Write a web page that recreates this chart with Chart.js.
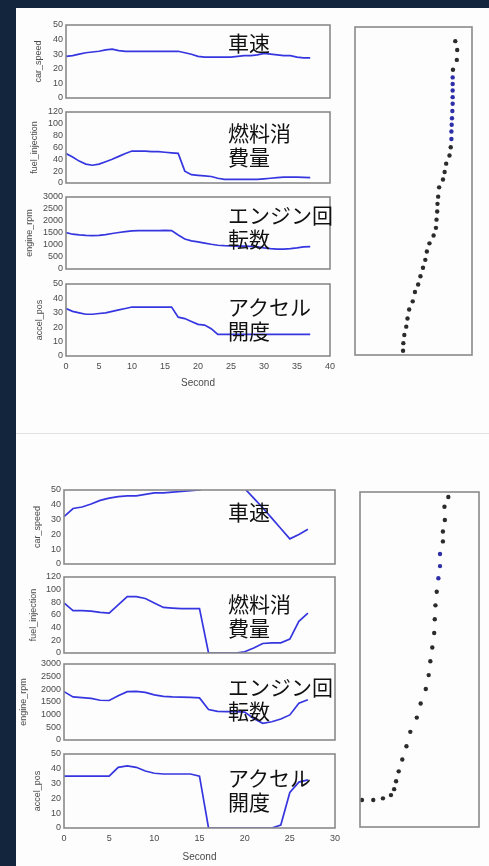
<!DOCTYPE html>
<html>
<head>
<meta charset="utf-8">
<script src="https://cdn.jsdelivr.net/npm/chart.js@4.4.1/dist/chart.umd.min.js"></script>
<style>
  html, body { margin: 0; padding: 0; }
  body {
    width: 489px; height: 866px; position: relative; overflow: hidden;
    background: #13243d; font-family: "DejaVu Sans", sans-serif;
  }
  #sheet { position: absolute; left: 16px; top: 8px; right: 0; bottom: 0; background: #fdfdfd; }
  #divider { position: absolute; left: 16px; right: 0; top: 433px; height: 1px; background: #e3e3e3; }
  .box { position: absolute; }
  .note {
    position: absolute; font-family: "Noto Sans CJK JP", sans-serif;
    font-size: 21px; line-height: 24px; color: #111; white-space: pre;
  }
</style>
</head>
<body>
<div id="sheet"></div>
<div id="divider"></div>
<script>
// ---- Run 1: 0-37 s ----
const secondsA = [0,1,2,3,4,5,6,7,8,9,10,11,12,13,14,15,16,17,18,19,20,21,22,23,24,25,26,27,28,29,30,31,32,33,34,35,36,37];
const carSpeedA = [28.5,29,30,31,31.5,32,33,33.5,32.5,32,32,32,32,32,32,32,32,32,31,30,28.5,28,28,28,28,28,28.5,29,29,29.5,30.5,30,29.5,29,29,28,27.5,27.5];
const fuelInjectionA = [50,44,37,32,30,32,36,40,45,50,54,54,54,53,53,52,51,50,20,14,13,12,11,8,6,6,6,6,6,6,7,8,9,10,10,10,9.5,9];
const engineRpmA = [1520,1450,1420,1400,1390,1400,1430,1480,1520,1560,1590,1600,1600,1600,1600,1610,1600,1420,1250,1170,1130,1080,1030,990,970,960,950,950,940,920,880,850,830,830,850,880,920,930];
const accelPosA = [33,31,30,29,29,29.5,30,31,32,33,34,34,34,34,34,34,34,27,26,24,22,21.5,19,15,15,15,15,15,15,15,15,15,15,15,15,15,15,15];
const trackXA = [49.7,50,51,53,54.3,56,59.7,62,65.3,67.7,70.3,72.7,74.3,77,81.3,83.7,84.3,85,85.3,86,87,91,92.7,94.3,97.7,99,99.7,99.7,100,100.3,100.7,101,101,101,101,101,101.3,105.3,105.7,103.7];
const trackYA = [4.3,12,20.3,28.7,37,46,54.3,63.7,71.3,79.7,88.3,96.3,104.7,113,121,128.7,137,145.3,153,160.3,169.7,177.7,185.3,193.7,202,210.3,218.7,226.3,233,239.7,247,254.3,261,267.7,274.3,281,288.7,298.7,308.7,317.7];

// ---- Run 2: 0-27 s ----
const secondsB = [0,1,2,3,4,5,6,7,8,9,10,11,12,13,14,15,16,17,18,19,20,21,22,23,24,25,26,27];
const carSpeedB = [32,37.5,38.5,40.5,43,44.5,45.5,46,46,47,48,48,48.5,49,49.5,50,52,54,56,56,51,44.5,38,31,24,17,20,23.5];
const fuelInjectionB = [79,67,67,66,64,63,76,89,89,86,79,72,71,70,70,70,0,0,0,0,2,8,15,16,16,22,50,63];
const engineRpmB = [1910,1700,1670,1640,1570,1560,1750,1910,1920,1880,1780,1720,1700,1690,1680,1660,1200,1130,1120,1120,1100,850,660,720,830,990,1450,1590];
const accelPosB = [35,35,35,35,35,35,41,42,41,38.5,37,36.5,36.5,36.5,36.5,35,0,0,0,0,0,0,0,0,2,24,31,32.5];
const trackXB = [2,13.7,23.7,32,35.3,37.3,40,43.7,48,52,58.7,62.7,68,71,72.7,74.7,76.7,77.3,78,79.3,81,82.7,82.7,85.7,85.7,87.7,87.3,91.3];
const trackYB = [27.3,27.3,29,32.3,38.3,46.3,56.3,68.3,81.7,96.3,110.7,125,139.7,153.7,167.7,181.7,196.3,210.3,224.3,238,251.7,264,276.3,289,299,310.7,324,334];

// ---- tick labels and names ----
const secondTicksA = [0,5,10,15,20,25,30,35,40];
const secondTicksB = [0,5,10,15,20,25,30];
const speedTicks = [0,10,20,30,40,50];
const fuelTicks = [0,20,40,60,80,100,120];
const rpmTicks = [0,500,1000,1500,2000,2500,3000];
const accelTicks = [0,10,20,30,40,50];
const channelNames = ['car_speed','fuel_injection','engine_rpm','accel_pos'];
const channelNotes = ['車速','燃料消\n費量','エンジン回\n転数','アクセル\n開度'];

// ---- page geometry ----
const figA = {
  left: 66, right: 330, rows: [[25,98],[112,183],[197,269],[284,356]],
  titleX: [39,35,30,40], axisH: 35, noteTop: [30,120,202,294],
  track: {l: 353, r: 474, t: 25, b: 357, xMax: 121, yMax: 332}, trackBlue: [26,35]
};
const figB = {
  left: 64, right: 335, rows: [[490,564],[577,653],[664,740],[754,828]],
  titleX: [38,34,24,38], axisH: 37, noteTop: [499,591,674,765],
  track: {l: 358, r: 481, t: 490, b: 829, xMax: 123, yMax: 339}, trackBlue: [20,22]
};

const INK = '#4a4a4a';
const LINE = '#3636e0';

const framePlugin = {
  id: 'frame',
  afterDatasetsDraw(chart) {
    const a = chart.chartArea, ctx = chart.ctx;
    ctx.save();
    ctx.strokeStyle = '#8a8a8a';
    ctx.lineWidth = 1.6;
    ctx.strokeRect(a.left, a.top, a.right - a.left, a.bottom - a.top);
    ctx.restore();
  }
};

function makeCanvas(left, top, w, h) {
  const box = document.createElement('div');
  box.className = 'box';
  box.style.left = left + 'px'; box.style.top = top + 'px';
  box.style.width = w + 'px'; box.style.height = h + 'px';
  const c = document.createElement('canvas');
  c.width = w; c.height = h;
  c.style.width = w + 'px'; c.style.height = h + 'px';
  box.appendChild(c);
  document.body.appendChild(box);
  return c;
}

function linePanel(fig, row, seconds, xTicks, values, yTicks) {
  const [top, bottom] = fig.rows[row];
  const isLast = row === fig.rows.length - 1;
  const padTop = 8, padBottom = 8, padRight = 10, left = 16;
  const titleLeft = fig.titleX[row] - 5.4;
  const w = fig.right + padRight - left;
  const h = (bottom - top) + padTop + (isLast ? fig.axisH : padBottom);
  const canvas = makeCanvas(left, top - padTop, w, h);
  new Chart(canvas, {
    type: 'line',
    data: { datasets: [{
      data: seconds.map((s, i) => ({ x: s, y: values[i] })),
      borderColor: LINE, borderWidth: 1.7, pointRadius: 0, tension: 0, fill: false
    }]},
    options: {
      responsive: false, animation: false,
      layout: { padding: { left: titleLeft - left, top: padTop, right: padRight, bottom: isLast ? 0 : padBottom } },
      plugins: { legend: { display: false }, tooltip: { enabled: false } },
      scales: {
        x: {
          type: 'linear', min: xTicks[0], max: xTicks[xTicks.length - 1], display: isLast,
          grid: { display: false, drawTicks: false }, border: { display: false },
          afterBuildTicks: s => { s.ticks = xTicks.map(v => ({ value: v })); },
          afterFit: s => { s.height = isLast ? fig.axisH : 0; },
          ticks: { padding: 5, autoSkip: false, maxRotation: 0, color: INK, font: { size: 9 }, callback: v => String(v) },
          title: { display: true, text: 'Second', color: INK, font: { size: 10 }, padding: { top: 0, bottom: 2 } }
        },
        y: {
          min: yTicks[0], max: yTicks[yTicks.length - 1],
          grid: { display: false, drawTicks: false }, border: { display: false },
          afterBuildTicks: s => { s.ticks = yTicks.map(v => ({ value: v })); },
          afterFit: s => { s.width = fig.left - titleLeft; },
          ticks: { padding: 3, autoSkip: false, color: INK, font: { size: 9, lineHeight: 1 }, callback: v => String(v) },
          title: { display: true, text: channelNames[row], color: INK, font: { size: 9 }, padding: 0 }
        }
      }
    },
    plugins: [framePlugin]
  });

  const note = document.createElement('div');
  note.className = 'note';
  note.style.left = '228px';
  note.style.top = fig.noteTop[row] + 'px';
  note.textContent = channelNotes[row];
  document.body.appendChild(note);
}

function trackPanel(fig, xs, ys) {
  const t = fig.track, pad = 2;
  const canvas = makeCanvas(t.l - pad, t.t - pad, (t.r - t.l) + 2 * pad, (t.b - t.t) + 2 * pad);
  const [b0, b1] = fig.trackBlue;
  new Chart(canvas, {
    type: 'scatter',
    data: { datasets: [{
      data: xs.map((x, i) => ({ x, y: ys[i] })),
      pointRadius: 2.2, borderWidth: 0,
      backgroundColor: ctx => (ctx.dataIndex >= b0 && ctx.dataIndex <= b1) ? '#2e2ea8' : '#2b2b2b'
    }]},
    options: {
      responsive: false, animation: false,
      layout: { padding: pad },
      plugins: { legend: { display: false }, tooltip: { enabled: false } },
      scales: {
        x: { type: 'linear', min: 0, max: t.xMax, display: false },
        y: { type: 'linear', min: 0, max: t.yMax, display: false }
      }
    },
    plugins: [framePlugin]
  });
}

linePanel(figA, 0, secondsA, secondTicksA, carSpeedA, speedTicks);
linePanel(figA, 1, secondsA, secondTicksA, fuelInjectionA, fuelTicks);
linePanel(figA, 2, secondsA, secondTicksA, engineRpmA, rpmTicks);
linePanel(figA, 3, secondsA, secondTicksA, accelPosA, accelTicks);
trackPanel(figA, trackXA, trackYA);

linePanel(figB, 0, secondsB, secondTicksB, carSpeedB, speedTicks);
linePanel(figB, 1, secondsB, secondTicksB, fuelInjectionB, fuelTicks);
linePanel(figB, 2, secondsB, secondTicksB, engineRpmB, rpmTicks);
linePanel(figB, 3, secondsB, secondTicksB, accelPosB, accelTicks);
trackPanel(figB, trackXB, trackYB);
</script>
</body>
</html>
